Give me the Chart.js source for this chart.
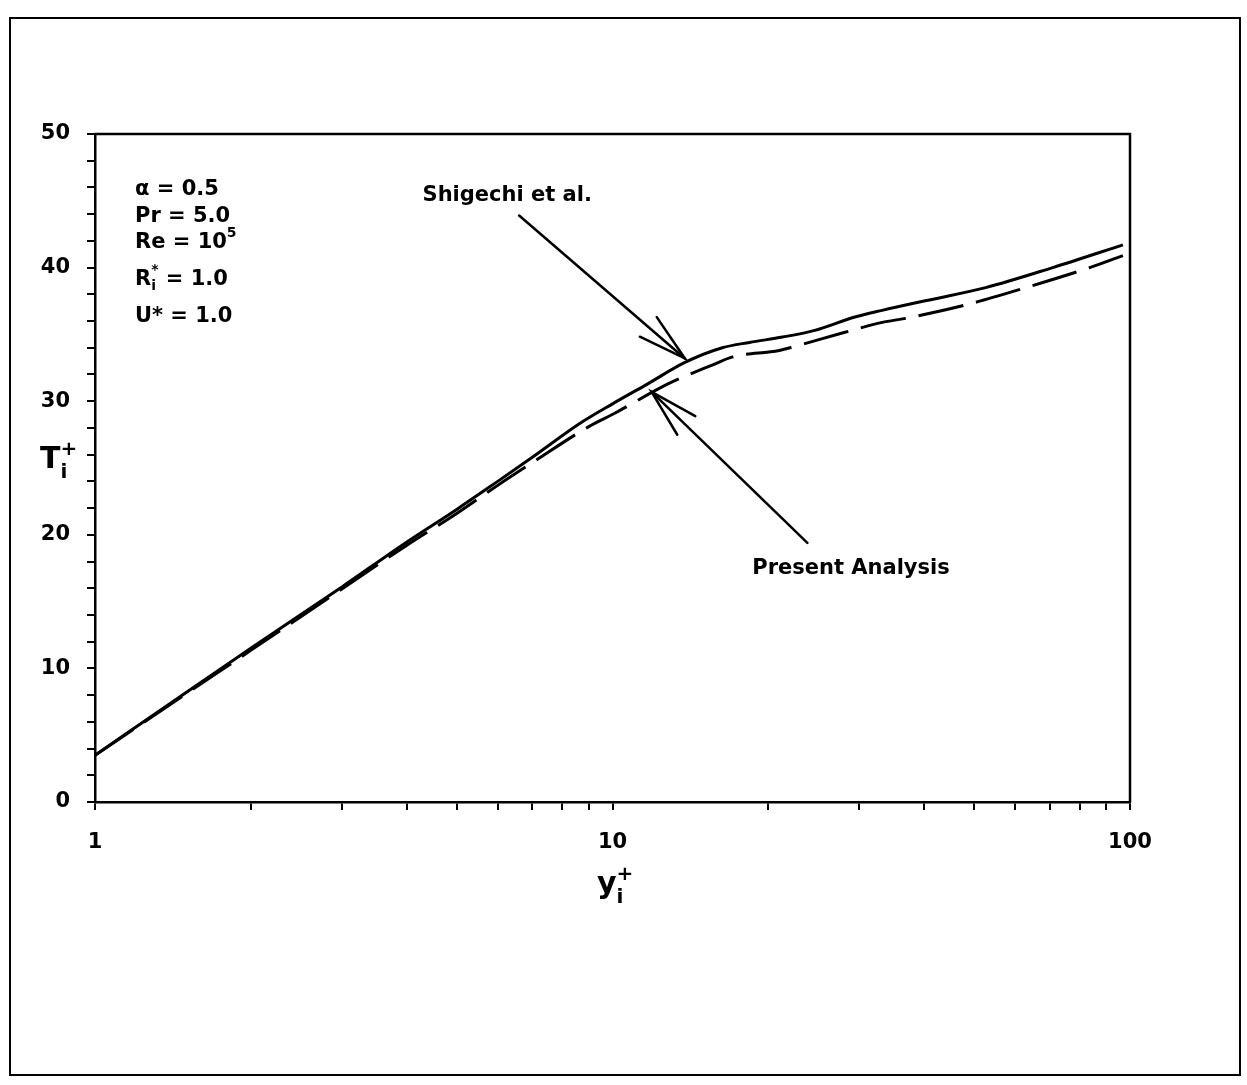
<!DOCTYPE html>
<html>
<head>
<meta charset="utf-8">
<script src="https://cdn.jsdelivr.net/npm/chart.js@4/dist/chart.umd.min.js"></script>
<style>
  html, body { margin: 0; padding: 0; background: #fff; }
  #wrap { width: 1247px; height: 1085px; position: relative; }
</style>
</head>
<body>
<div id="wrap"><canvas id="c" width="1247" height="1085"></canvas></div>
<script>
// Shigechi et al. temperature profile (solid)
const yPlusShigechi = [1, 1.5, 2, 3, 4, 5, 6, 7, 8.7, 10, 11.7, 13.8, 16.3, 18.4, 21.3, 24.6, 29.4, 33.2, 40, 52.6, 70.9, 96.9];
const tShigechi     = [3.5, 8.2, 11.5, 16.1, 19.45, 21.9, 24.0, 25.8, 28.4, 29.8, 31.3, 32.9, 34.0, 34.4, 34.8, 35.3, 36.3, 36.8, 37.5, 38.5, 40.0, 41.7];

// Present analysis temperature profile (dashed)
const yPlusPresent = [1, 1.5, 2, 3, 4, 5, 6, 7, 9, 10.1, 12.8, 15.8, 17, 21, 22.5, 27.8, 33.2, 36.8, 48.1, 62.9, 83.6, 96.9];
const tPresent     = [3.5, 8.1, 11.35, 15.95, 19.2, 21.6, 23.7, 25.4, 28.1, 29.1, 31.3, 32.8, 33.3, 33.8, 34.1, 35.1, 35.9, 36.2, 37.2, 38.5, 40.0, 40.9];

// Axis ticks
const xTickValues = [1, 2, 3, 4, 5, 6, 7, 8, 9, 10, 20, 30, 40, 50, 60, 70, 80, 90, 100];
const xTickLabels = ['1', '10', '100'];
const yMin = 0, yMax = 50, yMinorStep = 2, yLabelStep = 10;

// Case parameters printed in the upper-left corner
const caseParams = [
  [['\u03B1 = 0.5']],
  [['Pr = 5.0']],
  [['Re = 10'], ['5', 'sup']],
  [['R'], ['i', 'sub'], ['*', 'sup', true], [' = 1.0']],
  [['U* = 1.0']]
];

// Labelled arrows, anchored in data coordinates (y+, T+)
const arrowNotes = [
  { text: 'Shigechi et al.', label: [6.26, 45.4], tail: [6.6, 43.9], tip: [13.8, 33.2] },
  { text: 'Present Analysis', label: [28.9, 17.5], tail: [23.8, 19.4], tip: [11.9, 30.7] }
];

const FONT = '"DejaVu Sans", "Liberation Sans", sans-serif';

function toPoints(xs, ys) { return xs.map((x, i) => ({ x: x, y: ys[i] })); }

// Draws a run of text with optional sub/superscripts; returns end x
function drawRich(ctx, x, y, parts, size) {
  let cx = x, prevStart = x, prevEnd = x;
  for (const [t, mode, stack] of parts) {
    const s = mode ? Math.round(size * 0.68) : size;
    ctx.font = 'bold ' + s + 'px ' + FONT;
    const w = ctx.measureText(t).width;
    let by = y;
    if (mode === 'sub') by = y + size * 0.32;
    if (mode === 'sup') by = y - size * 0.45;
    const sx = stack ? prevStart : cx;
    ctx.fillText(t, sx, by);
    prevStart = sx;
    cx = stack ? Math.max(prevEnd, sx + w) : sx + w;
    prevEnd = cx;
  }
  return cx;
}

const decor = {
  id: 'decor',
  afterDraw(chart) {
    const ctx = chart.ctx;
    const a = chart.chartArea;
    const xs = chart.scales.x, ys = chart.scales.y;
    ctx.save();
    ctx.strokeStyle = '#000';
    ctx.fillStyle = '#000';
    ctx.lineCap = 'round';

    // plot box (top and right edges)
    ctx.lineWidth = 2.5;
    ctx.beginPath();
    ctx.moveTo(a.left, a.top); ctx.lineTo(a.right, a.top); ctx.lineTo(a.right, a.bottom);
    ctx.stroke();

    // outer figure frame
    ctx.lineWidth = 2;
    ctx.strokeRect(10, 18, 1230, 1057);

    // case parameters
    ctx.textBaseline = 'middle';
    ctx.textAlign = 'left';
    const lineYs = [56, 83, 109, 146, 183];
    caseParams.forEach((parts, i) => drawRich(ctx, a.left + 40, a.top + lineYs[i], parts, 21));

    // arrows with labels
    ctx.lineWidth = 2.5;
    for (const n of arrowNotes) {
      const tx = xs.getPixelForValue(n.tip[0]), ty = ys.getPixelForValue(n.tip[1]);
      const bx = xs.getPixelForValue(n.tail[0]), by = ys.getPixelForValue(n.tail[1]);
      ctx.beginPath(); ctx.moveTo(bx, by); ctx.lineTo(tx, ty); ctx.stroke();
      const ang = Math.atan2(by - ty, bx - tx);
      const len = 50, spread = 15 * Math.PI / 180;
      ctx.beginPath();
      ctx.moveTo(tx + len * Math.cos(ang - spread), ty + len * Math.sin(ang - spread));
      ctx.lineTo(tx, ty);
      ctx.lineTo(tx + len * Math.cos(ang + spread), ty + len * Math.sin(ang + spread));
      ctx.stroke();
      ctx.font = 'bold 21px ' + FONT;
      ctx.textAlign = 'center';
      ctx.fillText(n.text, xs.getPixelForValue(n.label[0]), ys.getPixelForValue(n.label[1]));
    }

    // axis titles
    ctx.textAlign = 'left';
    ctx.textBaseline = 'alphabetic';
    drawRich(ctx, 40, 468, [['T'], ['i', 'sub'], ['+', 'sup', true]], 30);
    drawRich(ctx, 597, 893, [['y'], ['i', 'sub'], ['+', 'sup', true]], 30);
    ctx.restore();
  }
};

const tickFont = { family: FONT, weight: 'bold', size: 21 };

new Chart(document.getElementById('c'), {
  type: 'line',
  data: {
    datasets: [
      {
        label: 'Shigechi et al.',
        data: toPoints(yPlusShigechi, tShigechi),
        borderColor: '#000', borderWidth: 3, pointRadius: 0,
        cubicInterpolationMode: 'monotone', fill: false
      },
      {
        label: 'Present Analysis',
        data: toPoints(yPlusPresent, tPresent),
        borderColor: '#000', borderWidth: 3, borderDash: [46, 13], pointRadius: 0,
        cubicInterpolationMode: 'monotone', fill: false
      }
    ]
  },
  options: {
    responsive: false,
    animation: false,
    devicePixelRatio: 1,
    layout: { padding: { left: 0, top: 134, right: 117, bottom: 0 } },
    plugins: { legend: { display: false }, tooltip: { enabled: false } },
    scales: {
      x: {
        type: 'logarithmic', min: 1, max: 100,
        afterBuildTicks: s => { s.ticks = xTickValues.map(v => ({ value: v })); },
        afterFit: s => { s.height = 1085 - 802; },
        grid: { display: true, drawOnChartArea: false, drawTicks: true, tickLength: 8, color: '#000', lineWidth: 2 },
        border: { display: true, color: '#000', width: 2.5 },
        ticks: {
          autoSkip: false, maxRotation: 0, minRotation: 0, padding: 20, color: '#000', font: tickFont,
          callback: v => { const s = String(Math.round(v)); return xTickLabels.includes(s) ? s : ''; }
        }
      },
      y: {
        type: 'linear', min: yMin, max: yMax,
        afterFit: s => { s.width = 95; },
        grid: { display: true, drawOnChartArea: false, drawTicks: true, tickLength: 8, color: '#000', lineWidth: 2 },
        border: { display: true, color: '#000', width: 2.5 },
        ticks: {
          stepSize: yMinorStep, autoSkip: false, padding: 17, color: '#000', font: tickFont,
          callback: v => (Math.round(v) % yLabelStep === 0 ? String(Math.round(v)) : '')
        }
      }
    }
  },
  plugins: [decor]
});
</script>
</body>
</html>
